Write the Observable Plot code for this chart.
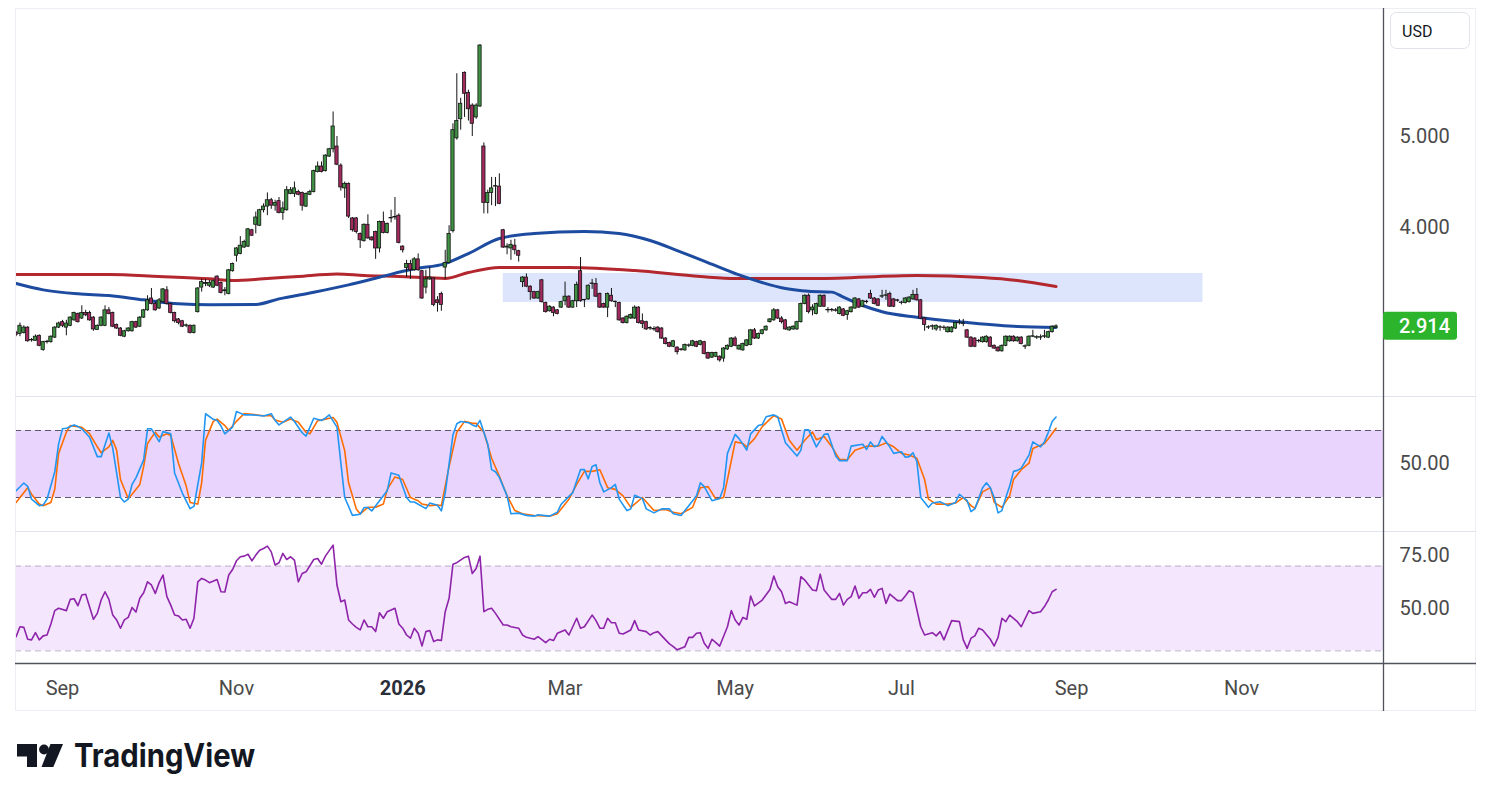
<!DOCTYPE html>
<html><head><meta charset="utf-8">
<script src="https://cdn.jsdelivr.net/npm/d3@7"></script>
<script src="https://cdn.jsdelivr.net/npm/@observablehq/plot@0.6"></script>
<style>
body{margin:0;background:#fff;}
#root{position:relative;width:1491px;height:801px;overflow:hidden;background:#fff;}
#root svg{position:absolute;left:0;}
</style></head><body><div id="root"></div>
<script>
// ---------- DATA (daily bars, weekdays, first bar 2025-08-14) ----------
const firstBarDate = "2025-08-14";
const openPrice = [
2.84,2.83,2.84,2.90,2.76,2.755,2.81,2.655,2.74,2.74,
2.79,2.90,2.96,2.90,2.92,2.98,3.05,3.00,3.06,3.06,
3.01,2.875,2.92,2.92,3.09,3.06,2.93,2.89,2.80,2.86,
2.86,2.96,2.91,3.01,3.09,3.22,3.16,3.11,3.18,3.31,
3.16,3.06,2.99,2.97,2.92,2.92,2.84,3.07,3.34,3.38,
3.36,3.34,3.46,3.39,3.30,3.27,3.52,3.69,3.71,3.78,
3.79,3.97,4.03,4.02,4.19,4.23,4.30,4.24,4.29,4.16,
4.19,4.37,4.37,4.39,4.38,4.23,4.36,4.39,4.61,4.67,
4.62,4.78,4.86,4.89,4.68,4.43,4.48,4.10,4.10,3.93,
3.85,4.03,3.89,3.95,3.77,4.06,3.94,4.10,4.11,4.13,
3.79,3.556,3.60,3.53,3.65,3.52,3.34,3.43,3.44,3.20,
3.27,3.56,3.61,3.96,4.98,5.19,5.70,5.48,5.34,5.21,
5.33,4.89,4.27,4.38,4.45,4.45,3.97,3.78,3.77,3.80,
3.74,3.40,3.45,3.35,3.29,3.22,3.42,3.17,3.08,3.12,
3.09,3.12,3.19,3.24,3.12,3.19,3.52,3.20,3.21,3.38,
3.38,3.27,3.16,3.12,3.25,3.18,3.17,3.00,2.95,3.00,
3.00,3.12,2.97,2.96,2.89,2.88,2.90,2.89,2.78,2.73,
2.69,2.68,2.66,2.65,2.70,2.70,2.74,2.71,2.74,2.62,
2.57,2.58,2.58,2.56,2.66,2.69,2.78,2.66,2.65,2.70,
2.71,2.87,2.78,2.83,2.87,2.96,2.98,3.09,3.00,2.98,
2.87,2.88,2.88,2.96,3.16,3.25,3.09,3.05,3.13,3.25,
3.09,3.09,3.09,3.05,3.10,3.04,3.07,3.11,3.21,3.13,
3.18,3.27,3.22,3.21,3.24,3.25,3.27,3.21,3.20,3.17,
3.17,3.18,3.21,3.26,3.20,3.00,2.90,2.91,2.88,2.90,
2.90,2.85,2.85,2.89,2.95,2.94,2.87,2.79,2.78,2.75,
2.74,2.74,2.79,2.70,2.68,2.64,2.70,2.75,2.80,2.75,
2.79,2.69,2.70,2.80,2.79,2.79,2.80,2.79,2.85,2.90];
const highPrice = [
2.86,2.95,2.92,2.91,2.78,2.82,2.82,2.75,2.76,2.81,
2.91,2.96,2.98,2.98,3.02,3.07,3.06,3.14,3.09,3.08,
3.02,2.93,3.02,3.14,3.12,3.07,2.94,2.90,2.87,2.90,
2.97,2.97,3.02,3.10,3.25,3.33,3.18,3.22,3.33,3.35,
3.17,3.07,3.00,2.98,2.94,2.93,2.93,3.34,3.43,3.43,
3.42,3.42,3.47,3.40,3.34,3.54,3.61,3.78,3.90,3.86,
3.99,3.98,4.17,4.20,4.26,4.38,4.32,4.30,4.33,4.28,
4.45,4.44,4.50,4.41,4.39,4.38,4.41,4.63,4.72,4.72,
4.80,4.87,5.27,5.00,4.70,4.50,4.49,4.11,4.11,3.94,
4.04,4.14,3.90,3.96,4.07,4.17,4.05,4.19,4.33,4.15,
3.80,3.64,3.64,3.67,3.71,3.53,3.53,3.56,3.45,3.24,
3.29,3.75,4.02,5.14,5.69,5.42,5.71,5.51,5.36,5.36,
6.01,4.93,4.41,4.55,4.55,4.59,3.98,3.82,3.86,3.87,
3.75,3.46,3.49,3.36,3.30,3.30,3.43,3.18,3.14,3.13,
3.10,3.19,3.40,3.25,3.20,3.40,3.67,3.21,3.37,3.43,
3.44,3.28,3.17,3.28,3.33,3.19,3.18,3.01,3.03,3.05,
3.14,3.13,3.05,2.97,2.91,2.91,2.91,2.90,2.79,2.74,
2.76,2.69,2.67,2.72,2.72,2.76,2.75,2.76,2.75,2.63,
2.63,2.63,2.59,2.68,2.71,2.79,2.80,2.71,2.73,2.77,
2.88,2.89,2.84,2.88,2.92,3.00,3.11,3.10,3.02,2.99,
2.91,2.92,2.97,3.17,3.26,3.27,3.15,3.17,3.26,3.26,
3.12,3.11,3.11,3.13,3.11,3.09,3.13,3.23,3.22,3.20,
3.20,3.31,3.23,3.22,3.31,3.31,3.29,3.22,3.21,3.19,
3.23,3.24,3.31,3.33,3.21,3.01,2.92,2.93,2.93,2.92,
2.92,2.91,2.91,2.96,2.99,2.99,2.88,2.80,2.79,2.77,
2.80,2.81,2.80,2.71,2.69,2.71,2.81,2.81,2.81,2.80,
2.80,2.71,2.81,2.87,2.81,2.82,2.87,2.86,2.92,2.93];
const lowPrice = [
2.80,2.80,2.83,2.74,2.74,2.75,2.69,2.64,2.72,2.73,
2.78,2.89,2.90,2.81,2.91,2.97,2.95,2.99,3.02,2.97,
2.86,2.87,2.91,2.91,3.04,2.90,2.88,2.80,2.79,2.85,
2.85,2.89,2.90,3.00,3.08,3.15,3.08,3.10,3.17,3.15,
3.05,2.95,2.93,2.90,2.90,2.83,2.83,3.06,3.29,3.35,
3.34,3.33,3.35,3.27,3.25,3.26,3.51,3.62,3.70,3.77,
3.78,3.90,3.93,4.01,4.16,4.13,4.20,4.18,4.15,4.08,
4.18,4.36,4.33,4.35,4.18,4.22,4.35,4.38,4.60,4.60,
4.61,4.77,4.82,4.68,4.40,4.32,4.10,3.95,3.93,3.77,
3.84,3.87,3.85,3.65,3.72,3.93,3.93,4.05,4.08,3.82,
3.72,3.45,3.43,3.52,3.52,3.21,3.27,3.42,3.13,3.07,
3.08,3.43,3.60,3.94,4.96,5.07,5.21,5.17,5.00,5.19,
5.32,4.15,4.15,4.24,4.23,4.25,3.77,3.70,3.64,3.70,
3.62,3.34,3.34,3.20,3.21,3.21,3.17,3.06,3.07,3.02,
3.04,3.11,3.14,3.11,3.11,3.12,3.18,3.12,3.20,3.32,
3.23,3.11,3.11,3.01,3.18,3.12,2.97,2.94,2.94,2.99,
2.99,2.94,2.89,2.87,2.87,2.86,2.84,2.77,2.71,2.68,
2.68,2.60,2.64,2.64,2.68,2.69,2.68,2.70,2.60,2.55,
2.56,2.57,2.52,2.52,2.65,2.68,2.69,2.65,2.64,2.69,
2.70,2.77,2.77,2.82,2.86,2.95,2.97,2.99,2.94,2.87,
2.86,2.87,2.87,2.95,3.15,3.05,3.03,3.04,3.12,3.12,
3.06,3.07,3.07,3.04,3.02,2.98,3.06,3.10,3.11,3.12,
3.16,3.21,3.15,3.13,3.22,3.20,3.12,3.12,3.18,3.15,
3.16,3.17,3.20,3.19,2.99,2.86,2.88,2.87,2.86,2.86,
2.87,2.84,2.84,2.88,2.93,2.91,2.78,2.68,2.68,2.73,
2.73,2.73,2.68,2.66,2.63,2.63,2.69,2.74,2.74,2.74,
2.71,2.66,2.69,2.79,2.77,2.76,2.78,2.78,2.84,2.89];
const closePrice = [
2.82,2.92,2.90,2.75,2.765,2.80,2.70,2.74,2.745,2.80,
2.90,2.945,2.92,2.945,3.01,3.06,2.96,3.06,3.035,2.98,
2.88,2.92,3.01,3.09,3.05,2.91,2.89,2.81,2.86,2.89,
2.96,2.90,3.01,3.09,3.20,3.16,3.09,3.20,3.32,3.16,
3.06,2.97,2.95,2.91,2.925,2.84,2.92,3.33,3.40,3.39,
3.39,3.41,3.36,3.28,3.31,3.53,3.60,3.77,3.80,3.84,
3.98,3.91,4.11,4.19,4.23,4.30,4.24,4.27,4.16,4.21,
4.41,4.41,4.43,4.36,4.24,4.37,4.39,4.62,4.67,4.61,
4.79,4.86,5.11,4.69,4.44,4.48,4.12,3.97,3.95,3.86,
4.03,3.88,3.86,3.77,4.06,3.94,4.04,4.105,4.115,3.83,
3.75,3.60,3.53,3.65,3.53,3.22,3.43,3.45,3.15,3.17,
3.15,3.61,3.93,5.07,5.17,5.36,5.47,5.30,5.14,5.34,
6.00,4.27,4.38,4.43,4.455,4.26,3.78,3.79,3.81,3.75,
3.69,3.45,3.35,3.29,3.22,3.29,3.18,3.07,3.13,3.06,
3.05,3.18,3.24,3.12,3.19,3.37,3.19,3.205,3.36,3.385,
3.24,3.12,3.12,3.27,3.19,3.185,2.98,2.95,3.02,3.04,
3.12,2.95,2.94,2.88,2.895,2.885,2.85,2.78,2.72,2.69,
2.75,2.63,2.655,2.71,2.705,2.75,2.69,2.75,2.61,2.56,
2.62,2.62,2.54,2.67,2.70,2.78,2.70,2.70,2.72,2.76,
2.87,2.78,2.83,2.87,2.91,2.99,3.09,3.00,2.96,2.88,
2.90,2.91,2.96,3.16,3.25,3.07,3.12,3.16,3.25,3.13,
3.095,3.095,3.085,3.12,3.03,3.08,3.12,3.22,3.12,3.19,
3.185,3.22,3.16,3.14,3.245,3.255,3.13,3.13,3.195,3.175,
3.22,3.23,3.26,3.20,3.00,2.93,2.905,2.915,2.92,2.905,
2.895,2.90,2.90,2.95,2.955,2.945,2.79,2.69,2.69,2.755,
2.79,2.80,2.69,2.67,2.64,2.70,2.80,2.80,2.75,2.79,
2.72,2.695,2.80,2.805,2.795,2.795,2.805,2.85,2.91,2.914];

// moving averages read at [bar, price]
const maBlue = [[0,3.385],[7,3.315],[16,3.271],[24,3.253],[33,3.205],[42,3.161],[50,3.15],[62,3.154],[68,3.216],[77,3.289],[86,3.37],[94,3.454],[103,3.546],[111,3.604],[117,3.714],[125,3.879],[134,3.934],[147,3.956],[156,3.934],[164,3.857],[171,3.747],[177,3.648],[186,3.495],[199,3.33],[205,3.30],[211,3.29],[214,3.235],[219,3.143],[224,3.075],[233,3.014],[246,2.956],[259,2.912],[269,2.901]];
const maRed = [[0,3.484],[24,3.484],[37,3.462],[50,3.436],[56,3.418],[64,3.436],[73,3.462],[83,3.49],[90,3.473],[99,3.462],[107,3.447],[111,3.44],[117,3.505],[125,3.56],[143,3.56],[160,3.527],[177,3.462],[186,3.44],[207,3.44],[233,3.473],[250,3.451],[259,3.418],[269,3.352]];

// highlighted zone [startBar, endBar] x [low, high]
const zoneBars = [126, 307];
const zonePrices = [3.176, 3.495];

// Stochastic RSI %K and %D  [bar, value]
const stochK = [[0,26],[2,33],[3,30],[4,18.5],[6,12.7],[7,13.3],[8,18.5],[10,43],[11,68],[12,81.5],[13,82],[15,85],[16,83.5],[17,81.5],[19,74],[21,56.6],[22,56.6],[24,77.7],[25,64],[27,20],[28,16],[29,18.5],[30,31.7],[31,37.6],[33,53.7],[34,81.5],[35,81.5],[37,70],[38,79],[40,77],[41,42],[43,24],[45,10],[46,12],[48,51],[49,95],[51,90],[52,89],[53,84],[54,77],[56,83],[57,97],[59,94],[61,94],[64,93],[66,95],[67,89],[68,85],[71,92],[72,88],[74,78],[75,75],[77,91],[79,89],[80,91],[81,94],[83,83],[84,51],[85,20],[87,4],[89,5],[90,11],[91,11],[92,8],[94,17],[96,26],[97,42],[99,40],[101,20],[102,16],[103,16],[106,10],[107,15],[109,13],[110,8],[111,24],[113,76],[114,86],[115,88],[117,87],[118,85],[119,83.5],[120,89],[122,68],[123,45],[124,43],[125,38],[127,21.5],[128,5.4],[130,6],[132,4],[134,3.3],
[135,4.5],[138,3.3],[140,6.8],[141,14],[143,21],[144,24.4],[146,45],[147,45],[148,36.7],[149,47.8],[150,49.3],[151,33.2],[152,25],[154,28.8],[155,31.7],[156,18.5],[158,8.3],[159,9.8],[160,22],[162,19],[163,9.8],[165,6.2],[167,9.8],[169,9.8],[170,5.4],[172,3.9],[174,12.7],[176,21.5],[177,33.2],[178,29.7],[180,17.1],[182,19.1],[183,28.8],[184,59.5],[186,76.5],[187,72.7],[189,62.4],[190,77],[192,84.4],[193,85.3],[194,92.3],[196,94],[197,92.3],[199,69],[202,57.2],[203,62.4],[204,80.6],[205,80.6],[207,65.4],[209,76.5],[210,77],[212,57.2],[213,53],[215,53],[216,66],[219,67.7],[220,63],[221,69.8],[222,65.4],[223,66.8],[224,74.7],[226,65.4],[227,59.5],[229,61],[230,56],[231,56.6],[232,60.1],[233,52.2],[234,20],[236,11.2],[237,15],[239,16.2],[241,12.7],[243,15.6],[244,22.9],[246,17.1],[247,7.4],[248,9.8],[250,28.8],[251,33.2],[252,28.8],[253,20],[254,6.2],[255,8.3],[256,20],[257,30.2],[258,43.4],[259,44.3],[260,46.3],[262,58],[263,69.8],[265,65.4],[266,69.8],[267,78.5],[268,88],[269,92]];
const stochD = [[0,15.6],[3,28.8],[4,23],[6,14.1],[7,12.7],[9,15.6],[10,27.3],[11,59.5],[13,78.5],[14,84.4],[17,82.9],[19,77.1],[21,65.4],[22,60.1],[24,65.4],[25,71.2],[26,62.4],[27,36.1],[29,19.1],[30,22.9],[32,31.7],[33,47.8],[34,68.3],[36,78.5],[37,74.1],[39,77.1],[40,75.6],[42,50.7],[44,30.2],[45,15.6],[47,14.1],[48,33.2],[49,71.2],[51,88.2],[52,90.2],[54,84.4],[55,80],[57,88.2],[59,95.2],[61,94.6],[64,93.2],[66,93.2],[67,89.4],[69,87.3],[71,90.2],[73,87.3],[75,78.5],[76,77.1],[78,88.8],[80,90.2],[82,91.7],[83,87.3],[85,62],[86,33.2],[88,9.8],[89,5.4],[91,11.2],[93,11.2],[95,14.1],[96,27.3],[98,38.4],[100,36.1],[102,20],[104,17.1],[105,14.1],[107,12.7],[109,13.3],[110,12.7],[112,47.8],[114,78.5],[116,88.2],[118,86.4],[119,86.4],[121,78.5],[123,55.1],[125,39],[127,21.5],[129,8.3],[131,5.4],[134,3.9],
[138,3.3],[140,5.4],[143,18.5],[145,31.7],[147,43.4],[149,43.4],[151,44.9],[153,28.8],[155,27.3],[157,21.5],[159,11.2],[162,20],[165,8.3],[168,9.2],[170,6.8],[172,5.4],[175,11.2],[177,28.8],[179,29.7],[181,18.5],[183,20],[184,36.1],[186,69.8],[188,68.3],[189,65.4],[191,72.7],[193,83.5],[195,90.2],[196,93.2],[198,90.2],[200,71.2],[202,62.4],[204,71.2],[206,78.5],[207,71.8],[209,74.7],[211,65.4],[213,54.2],[215,53.7],[217,62.4],[220,66],[223,66],[225,68.9],[227,65.4],[229,59.5],[231,58],[233,55.1],[235,36.1],[236,18.5],[238,14.1],[241,14.1],[243,15],[245,20],[247,12.7],[248,10.3],[250,25],[252,28.8],[253,15.6],[255,11.2],[257,21.5],[258,36.1],[260,44.9],[262,50.7],[263,63.9],[266,68.3],[267,72.7],[269,82]];

// RSI [bar, value]
const rsiValues = [[0,36.7],[1,41.4],[2,41.1],[3,35.5],[4,35.2],[5,38.6],[6,35.2],[7,37.1],[8,37.5],[9,42.7],[10,49],[11,50.1],[13,49],[14,54.3],[15,54.6],[16,51.3],[17,56.4],[18,56.7],[20,44.9],[21,47.7],[22,54],[23,57.9],[24,54.3],[25,46.9],[26,44.6],[27,40.7],[28,44.6],[29,45.8],[30,50.5],[31,48.3],[32,54.8],[33,57.4],[34,62.6],[35,61.1],[36,57.1],[37,62.2],[38,65.8],[39,55.6],[40,51.6],[41,46.9],[42,46.5],[43,44.6],[44,44.9],[45,40.7],[46,45.4],[47,62.6],[48,64.2],[49,63.4],[50,62.2],[52,63.7],[53,57.9],[54,57.8],[55,65.8],[56,68.4],[57,72.5],[58,74.4],[59,74.7],[60,75.6],[61,72.5],[62,75.2],[63,77.5],[64,78.3],[65,79.4],[66,76.7],[67,70.5],[68,71.6],[69,76],[70,73.1],[71,74.4],[72,72.8],[73,62.6],[74,66.5],[75,67.3],[77,73.1],[78,73.6],[79,70.9],[80,74.7],[82,79.9],[83,61.1],[84,53.2],[85,54],[86,44.6],[87,42.7],[88,41.1],[89,39.9],[90,44.6],[91,41.4],[92,41.4],[93,39.1],[94,48],[95,45.4],[96,48.5],[98,50.1],[99,42.7],[100,40.7],[101,37.5],[102,36],[103,40.7],[104,38.3],[105,32.3],[106,39.1],[107,39.6],[108,34.4],[109,35.2],[110,34.9],[111,48.5],[112,54.8],[113,70.9],[114,71.6],[116,74.1],[117,74.7],[118,66.5],[119,68.9],[120,74.7],[121,48.5],[122,49.6],[123,50.1],[124,47.7],[126,42.2],[127,42.2],[128,41.4],[130,40.7],[131,37.5],[132,36.4],[134,35.5],[135,36.7],[137,33.9],[138,35.5],[139,34.9],[140,38.3],[142,39.9],[143,37.5],[145,45.4],[146,40.7],[147,41.4],[149,46.9],[150,44.3],[151,40.7],[152,40.7],[153,45.4],[154,43.3],[155,43.3],[156,38.3],[157,38],[159,39.9],[160,44.3],[161,39.9],[163,39.1],[164,37.5],[165,38.6],[166,39.1],[168,35.2],[169,33.3],[170,32],[171,30.5],[173,32],[174,36.4],[175,36.4],[176,38.3],[177,38.6],[178,33.6],[179,31.2],[180,35.5],[181,33.9],[182,32.3],[184,41.4],[185,49],[186,44.6],[187,42.2],[188,45.8],[189,44.9],[190,55.9],[191,51.2],[193,54],[195,59],[196,65.3],[197,60.3],[198,57.9],[199,52.4],[200,53.2],[202,51.6],[203,65],[204,63.4],[206,58.7],[207,58.4],[208,66.2],[209,58.7],[211,54.3],[212,54.3],[213,57.1],[214,51.6],[215,54.3],[216,55.6],[217,60.6],[218,54.8],[219,57.4],[220,57.4],[221,59],[222,55.3],[223,58.7],[224,59.5],[225,52.4],[226,56.8],[228,53.7],[229,53.7],[230,55.9],[231,58.4],[232,57.5],[234,41.4],[235,37.5],[237,38.6],[238,37.1],[239,39.1],[240,35.2],[242,44.3],[244,43.8],[245,35.2],[246,31.2],[247,36],[248,37.1],[249,40.7],[250,39.9],[252,35.5],[253,32.3],[254,36.4],[255,45.4],[256,43.8],[257,46.9],[259,43.8],[260,41.4],[262,49],[263,47.7],[265,48.5],[266,50.9],[267,54],[268,57.9],[269,59]];

const stochBands = [20, 80];
const rsiBands = [30, 70];
const priceTicks = [4, 5];
const stochTicks = [50];
const rsiTicks = [75, 50];
const monthNames = ["Jan","Feb","Mar","Apr","May","Jun","Jul","Aug","Sep","Oct","Nov","Dec"];
const currency = "USD";

// ---------- LAYOUT ----------
const W = 1491, FONT = "Roboto, 'Noto Sans', sans-serif";
const xDomain = [-0.155, 353.7];
const GREEN = "#3f9143", RED = "#a32a5e", WICK = "#141414";
const axisColor = "#4a4a4a";

// trading-day calendar (weekdays)
const dates = [];
{
  const [Y, M, D] = firstBarDate.split("-").map(Number);
  let t = Date.UTC(Y, M - 1, D);
  while (dates.length < 380) {
    const d = new Date(t);
    const wd = d.getUTCDay();
    if (wd !== 0 && wd !== 6) dates.push(d);
    t += 86400000;
  }
}
const monthTicks = [], yearTicks = [], tickLabel = new Map();
for (let i = 1; i < dates.length && i <= xDomain[1]; i++) {
  const m = dates[i].getUTCMonth();
  if (m !== dates[i - 1].getUTCMonth() && m % 2 === 0) {
    if (m === 0) { yearTicks.push(i); tickLabel.set(i, String(dates[i].getUTCFullYear())); }
    else { monthTicks.push(i); tickLabel.set(i, monthNames[m]); }
  }
}

const candles = openPrice.map((o, i) => ({i, o, h: highPrice[i], l: lowPrice[i], c: closePrice[i]}));
const up = candles.filter(d => d.c >= d.o), down = candles.filter(d => d.c < d.o);

const baseStyle = {fontFamily: FONT, fontSize: "20px", color: axisColor, background: "transparent", overflow: "visible"};
const root = document.getElementById("root");

// Price pane (y 8..396)
const pricePlot = Plot.plot({
  width: W, height: 388, marginTop: 0, marginBottom: 0, marginLeft: 15, marginRight: 108,
  x: {domain: xDomain, axis: null},
  y: {domain: [2.143, 6.407], axis: null},
  style: baseStyle,
  marks: [
    Plot.rect([zonePrices], {x1: () => zoneBars[0], x2: () => zoneBars[1], y1: d => d[0], y2: d => d[1], fill: "#dde5fc"}),
    Plot.line(maRed, {x: d => d[0], y: d => d[1], stroke: "#b3272e", strokeWidth: 3, curve: "monotone-x", clip: true}),
    Plot.line(maBlue, {x: d => d[0], y: d => d[1], stroke: "#1d4ba0", strokeWidth: 3, curve: "monotone-x", clip: true}),
    Plot.ruleX(candles, {x: "i", y1: "l", y2: "h", stroke: WICK, strokeWidth: 1, clip: true}),
    Plot.rect(up, {x1: d => d.i - 0.42, x2: d => d.i + 0.42, y1: "o", y2: "c", fill: GREEN, stroke: WICK, strokeWidth: 0.8, clip: true}),
    Plot.rect(down, {x1: d => d.i - 0.42, x2: d => d.i + 0.42, y1: "o", y2: "c", fill: RED, stroke: WICK, strokeWidth: 0.8, clip: true}),
    Plot.axisY({anchor: "right", ticks: priceTicks, tickSize: 0, tickPadding: 16, tickFormat: d3.format(".3f"), fill: axisColor})
  ]
});
pricePlot.style.top = "8px";
root.appendChild(pricePlot);

// Stoch RSI pane (y 397..531)
const stochPlot = Plot.plot({
  width: W, height: 134, marginTop: 0, marginBottom: 0, marginLeft: 15, marginRight: 108,
  x: {domain: xDomain, axis: null},
  y: {domain: [-10.45, 109.55], axis: null},
  style: baseStyle,
  marks: [
    Plot.rect([stochBands], {x1: () => xDomain[0], x2: () => xDomain[1], y1: d => d[0], y2: d => d[1], fill: "#e8d4fc"}),
    Plot.ruleY(stochBands, {stroke: "#5d586e", strokeWidth: 1, strokeDasharray: "6,4"}),
    Plot.line(stochD, {x: d => d[0], y: d => d[1], stroke: "#ff6d00", strokeWidth: 1.6, clip: true}),
    Plot.line(stochK, {x: d => d[0], y: d => d[1], stroke: "#2196f3", strokeWidth: 1.6, clip: true}),
    Plot.axisY({anchor: "right", ticks: stochTicks, tickSize: 0, tickPadding: 16, tickFormat: d3.format(".2f"), fill: axisColor})
  ]
});
stochPlot.style.top = "397px";
root.appendChild(stochPlot);

// RSI pane (y 532..663) + time axis
const rsiPlot = Plot.plot({
  width: W, height: 179, marginTop: 0, marginBottom: 48, marginLeft: 15, marginRight: 108,
  x: {domain: xDomain, axis: null},
  y: {domain: [24.06, 85.85], axis: null},
  style: baseStyle,
  marks: [
    Plot.rect([rsiBands], {x1: () => xDomain[0], x2: () => xDomain[1], y1: d => d[0], y2: d => d[1], fill: "#f3e6fd"}),
    Plot.ruleY(rsiBands, {stroke: "#b9b2c8", strokeWidth: 1, strokeDasharray: "6,4"}),
    Plot.line(rsiValues, {x: d => d[0], y: d => d[1], stroke: "#8e24aa", strokeWidth: 1.6, clip: true}),
    Plot.axisY({anchor: "right", ticks: rsiTicks, tickSize: 0, tickPadding: 16, tickFormat: d3.format(".2f"), fill: axisColor}),
    Plot.axisX({anchor: "bottom", ticks: monthTicks, tickSize: 0, tickPadding: 17, tickFormat: i => tickLabel.get(i), fill: axisColor}),
    Plot.axisX({anchor: "bottom", ticks: yearTicks, tickSize: 0, tickPadding: 17, tickFormat: i => tickLabel.get(i), fill: "#2a2e39", fontWeight: "bold"})
  ]
});
rsiPlot.style.top = "532px";
root.appendChild(rsiPlot);

// ---------- Overlay: frame, separators, price label, currency, logo ----------
const yPrice = pricePlot.scale("y");
const lastClose = closePrice[closePrice.length - 1];
const lastY = 8 + yPrice.apply(lastClose);

const ov = d3.create("svg").attr("width", W).attr("height", 801).style("top", "0px").style("font-family", FONT);
ov.append("rect").attr("x", 15.5).attr("y", 8.5).attr("width", 1460).attr("height", 702).attr("fill", "none").attr("stroke", "#eceef3");
ov.append("line").attr("x1", 15).attr("x2", 1476).attr("y1", 396.5).attr("y2", 396.5).attr("stroke", "#e0e3eb");
ov.append("line").attr("x1", 15).attr("x2", 1476).attr("y1", 531.5).attr("y2", 531.5).attr("stroke", "#e0e3eb");
ov.append("line").attr("x1", 15).attr("x2", 1476).attr("y1", 663.5).attr("y2", 663.5).attr("stroke", "#50535e").attr("stroke-width", 1.3);
ov.append("line").attr("x1", 1383.5).attr("x2", 1383.5).attr("y1", 8).attr("y2", 711).attr("stroke", "#50535e").attr("stroke-width", 1.3);

// currency box
ov.append("rect").attr("x", 1390.5).attr("y", 12.5).attr("width", 79).attr("height", 36).attr("rx", 6).attr("fill", "#fff").attr("stroke", "#e0e3eb");
ov.append("text").attr("x", 1402).attr("y", 31).attr("dy", "0.35em").attr("font-size", 16).attr("fill", "#131722").text(currency);

// last price label
ov.append("rect").attr("x", 1383).attr("y", lastY - 14).attr("width", 74).attr("height", 28).attr("rx", 3).attr("fill", "#2bb42c");
ov.append("text").attr("x", 1399).attr("y", lastY).attr("dy", "0.35em").attr("font-size", 20).attr("font-weight", 500).attr("fill", "#fff").text(lastClose.toFixed(3));

// TradingView logo
const logo = ov.append("g").attr("fill", "#131722");
logo.append("path").attr("d", "M17,744 H37 V767 H27 V756.5 H17 Z");
logo.append("circle").attr("cx", 44).attr("cy", 749.5).attr("r", 4.9);
logo.append("path").attr("d", "M50.5,744 H63 L53.3,767 H41.5 Z");
logo.append("text").attr("x", 74).attr("y", 767).attr("font-size", 32).attr("font-weight", 700)
  .attr("font-family", "Inter, Roboto, sans-serif").attr("textLength", 181).attr("lengthAdjust", "spacingAndGlyphs").text("TradingView");

root.appendChild(ov.node());
</script>
</body></html>
